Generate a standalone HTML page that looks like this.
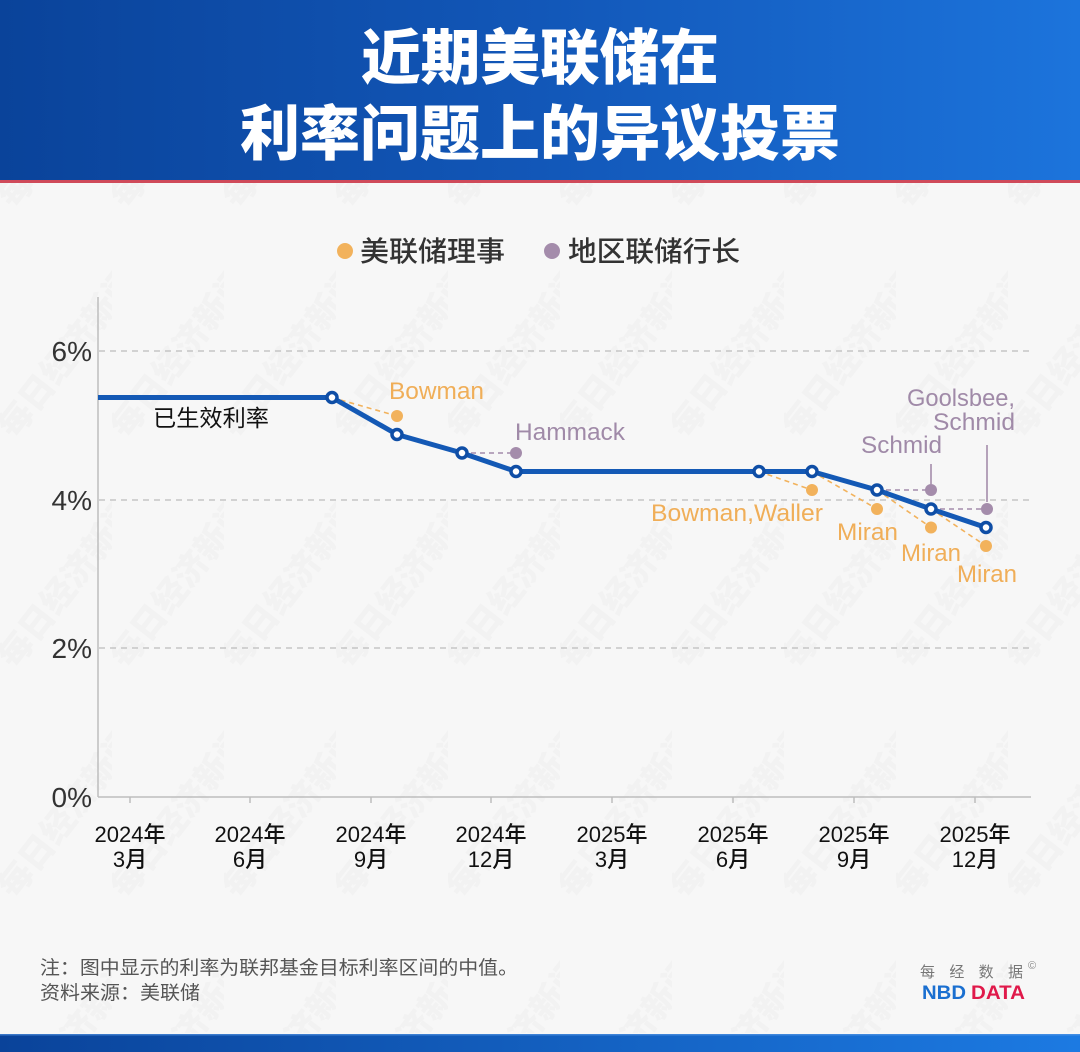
<!DOCTYPE html>
<html><head><meta charset="utf-8">
<style>
html,body{margin:0;padding:0;background:#f7f7f7;}
svg{display:block;}
text{font-family:"Liberation Sans","Noto Sans CJK SC",sans-serif;}
.cjk{font-family:"Noto Sans CJK SC","Liberation Sans",sans-serif;}
</style></head>
<body>
<svg width="1080" height="1052" viewBox="0 0 1080 1052" xmlns="http://www.w3.org/2000/svg">
<defs>
<linearGradient id="hg" x1="0" y1="0" x2="1" y2="0">
<stop offset="0" stop-color="#0a439a"/>
<stop offset="0.5" stop-color="#1257b8"/>
<stop offset="1" stop-color="#1c74dc"/>
</linearGradient>
<linearGradient id="bg2" x1="0" y1="0" x2="1" y2="0">
<stop offset="0" stop-color="#0a439a"/>
<stop offset="1" stop-color="#1c7ae2"/>
</linearGradient>
<pattern id="wm" x="0" y="0" width="112" height="230" patternUnits="userSpaceOnUse">
<text class="cjk" x="0" y="0" font-size="34" font-weight="900" fill="#000" fill-opacity="0.02" transform="translate(15,210) rotate(-52)">每日经济新闻</text>
</pattern>
</defs>
<rect width="1080" height="1052" fill="#f7f7f7"/>
<rect x="0" y="183" width="1080" height="850" fill="url(#wm)"/>

<!-- header -->
<rect x="0" y="0" width="1080" height="181" fill="url(#hg)"/>
<rect x="0" y="180" width="1080" height="3" fill="#cf4a5a"/>
<text class="cjk" x="540" y="79" text-anchor="middle" font-size="60" font-weight="900" fill="#fff" textLength="358" lengthAdjust="spacingAndGlyphs">近期美联储在</text>
<text class="cjk" x="540" y="155" text-anchor="middle" font-size="60" font-weight="900" fill="#fff" textLength="600" lengthAdjust="spacingAndGlyphs">利率问题上的异议投票</text>

<!-- legend -->
<circle cx="345" cy="251" r="8" fill="#f2b25c"/>
<text class="cjk" x="360" y="261" font-size="28" font-weight="500" fill="#333" textLength="145" lengthAdjust="spacingAndGlyphs">美联储理事</text>
<circle cx="552" cy="251" r="8" fill="#a48cab"/>
<text class="cjk" x="568" y="261" font-size="28" font-weight="500" fill="#333" textLength="172" lengthAdjust="spacingAndGlyphs">地区联储行长</text>

<!-- grid -->
<g stroke="#bdbdbd" stroke-width="1.3" stroke-dasharray="6 5">
<line x1="99" y1="351" x2="1030" y2="351"/>
<line x1="99" y1="500" x2="1030" y2="500"/>
<line x1="99" y1="648" x2="1030" y2="648"/>
</g>
<!-- axes -->
<line x1="98" y1="297" x2="98" y2="797" stroke="#bdbdbd" stroke-width="1.5"/>
<line x1="98" y1="797" x2="1031" y2="797" stroke="#bdbdbd" stroke-width="1.5"/>
<g stroke="#bdbdbd" stroke-width="1.5">
<line x1="130" y1="797" x2="130" y2="803"/>
<line x1="250" y1="797" x2="250" y2="803"/>
<line x1="371" y1="797" x2="371" y2="803"/>
<line x1="491" y1="797" x2="491" y2="803"/>
<line x1="612" y1="797" x2="612" y2="803"/>
<line x1="733" y1="797" x2="733" y2="803"/>
<line x1="854" y1="797" x2="854" y2="803"/>
<line x1="975" y1="797" x2="975" y2="803"/>
</g>

<!-- y labels -->
<g font-size="28" fill="#333" text-anchor="end">
<text x="92" y="361">6%</text>
<text x="92" y="510">4%</text>
<text x="92" y="658">2%</text>
<text x="92" y="807">0%</text>
</g>

<!-- x labels -->
<g class="cjk" font-size="22" font-weight="500" fill="#111" text-anchor="middle">
<text x="130" y="842">2024年</text><text x="130" y="867">3月</text>
<text x="250" y="842">2024年</text><text x="250" y="867">6月</text>
<text x="371" y="842">2024年</text><text x="371" y="867">9月</text>
<text x="491" y="842">2024年</text><text x="491" y="867">12月</text>
<text x="612" y="842">2025年</text><text x="612" y="867">3月</text>
<text x="733" y="842">2025年</text><text x="733" y="867">6月</text>
<text x="854" y="842">2025年</text><text x="854" y="867">9月</text>
<text x="975" y="842">2025年</text><text x="975" y="867">12月</text>
</g>

<!-- dissent dashed lines -->
<g stroke="#f2b25c" stroke-width="1.6" stroke-dasharray="5 4" fill="none">
<line x1="332" y1="397.5" x2="397" y2="416"/>
<line x1="759" y1="471.5" x2="812" y2="490"/>
<line x1="812" y1="471.5" x2="877" y2="509"/>
<line x1="877" y1="490" x2="931" y2="527.5"/>
<line x1="931" y1="509" x2="986" y2="546"/>
</g>
<g stroke="#a48cab" stroke-width="1.6" stroke-dasharray="5 4" fill="none">
<line x1="462" y1="453" x2="516" y2="453"/>
<line x1="877" y1="490" x2="931" y2="490"/>
<line x1="931" y1="509" x2="986" y2="509"/>
</g>
<g stroke="#a48cab" stroke-width="1.6">
<line x1="931" y1="464" x2="931" y2="484"/>
<line x1="987" y1="445" x2="987" y2="502"/>
</g>

<!-- main line -->
<polyline points="98,397.5 332,397.5 397,434.5 462,453 516,471.5 759,471.5 812,471.5 877,490 931,509 986,527.5" fill="none" stroke="#1459b5" stroke-width="5" stroke-linejoin="round"/>
<g fill="#fff" stroke="#0f4ea6" stroke-width="3.5">
<circle cx="332" cy="397.5" r="5"/>
<circle cx="397" cy="434.5" r="5"/>
<circle cx="462" cy="453" r="5"/>
<circle cx="516" cy="471.5" r="5"/>
<circle cx="759" cy="471.5" r="5"/>
<circle cx="812" cy="471.5" r="5"/>
<circle cx="877" cy="490" r="5"/>
<circle cx="931" cy="509" r="5"/>
<circle cx="986" cy="527.5" r="5"/>
</g>

<!-- dots -->
<g fill="#f2b25c">
<circle cx="397" cy="416" r="6"/>
<circle cx="812" cy="490" r="6"/>
<circle cx="877" cy="509" r="6"/>
<circle cx="931" cy="527.5" r="6"/>
<circle cx="986" cy="546" r="6"/>
</g>
<g fill="#a48cab">
<circle cx="516" cy="453" r="6"/>
<circle cx="931" cy="490" r="6"/>
<circle cx="987" cy="509" r="6"/>
</g>

<!-- labels -->
<text class="cjk" x="153" y="426" font-size="23" fill="#111" textLength="116" lengthAdjust="spacingAndGlyphs">已生效利率</text>
<g font-size="24" fill="#f0ae58">
<text x="389" y="399" textLength="95" lengthAdjust="spacingAndGlyphs">Bowman</text>
<text x="651" y="521" textLength="172" lengthAdjust="spacingAndGlyphs">Bowman,Waller</text>
<text x="837" y="540" textLength="61" lengthAdjust="spacingAndGlyphs">Miran</text>
<text x="901" y="561" textLength="60" lengthAdjust="spacingAndGlyphs">Miran</text>
<text x="957" y="582" textLength="60" lengthAdjust="spacingAndGlyphs">Miran</text>
</g>
<g font-size="24" fill="#a08aa8">
<text x="515" y="440" textLength="110" lengthAdjust="spacingAndGlyphs">Hammack</text>
<text x="861" y="453" textLength="81" lengthAdjust="spacingAndGlyphs">Schmid</text>
<text x="907" y="406" textLength="108" lengthAdjust="spacingAndGlyphs">Goolsbee,</text>
<text x="933" y="430" textLength="82" lengthAdjust="spacingAndGlyphs">Schmid</text>
</g>

<!-- footer -->
<text class="cjk" x="40" y="974" font-size="19" fill="#555" textLength="478" lengthAdjust="spacingAndGlyphs">注：图中显示的利率为联邦基金目标利率区间的中值。</text>
<text class="cjk" x="40" y="999" font-size="19" fill="#555" textLength="160" lengthAdjust="spacingAndGlyphs">资料来源：美联储</text>
<text class="cjk" x="920" y="977" font-size="15" fill="#777" textLength="103" lengthAdjust="spacing">每经数据</text>
<text x="1028" y="969" font-size="11" fill="#888">©</text>
<text x="922" y="999" font-size="19" font-weight="bold" fill="#1a6fd0" textLength="44" lengthAdjust="spacingAndGlyphs">NBD</text>
<text x="971" y="999" font-size="19" font-weight="bold" fill="#e0194a" textLength="54" lengthAdjust="spacingAndGlyphs">DATA</text>

<rect x="0" y="1034" width="1080" height="18" fill="url(#bg2)"/>
<rect x="0" y="1034" width="1080" height="1.5" fill="#5b9be6" fill-opacity="0.6"/>
</svg>
</body></html>
